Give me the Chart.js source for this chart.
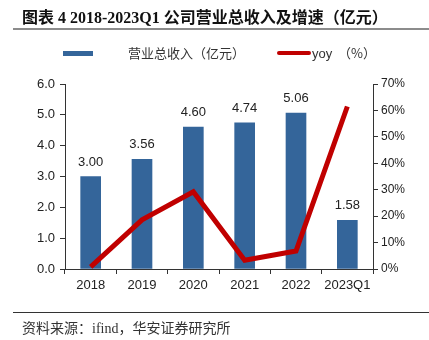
<!DOCTYPE html>
<html>
<head>
<meta charset="utf-8">
<script src="https://cdn.jsdelivr.net/npm/chart.js@4/dist/chart.umd.min.js"></script>
<style>
  body { margin: 0; background: #fff; }
  #wrap { position: relative; width: 429px; height: 340px; overflow: hidden; }
  #title { position: absolute; left: 22px; top: 4px; font: bold 16px "Liberation Serif", "Noto Sans CJK SC", serif; color: #111; white-space: nowrap; }
  #title .cn { font-family: "Noto Sans CJK SC", sans-serif; }
  #line1 { position: absolute; left: 13px; top: 28px; width: 416px; height: 2px; background: #8c8c8c; }
  #line2 { position: absolute; left: 13px; top: 312px; width: 416px; height: 1px; background: #333; }
  #source { position: absolute; left: 22px; top: 317px; font: 14px "Noto Sans CJK SC", sans-serif; color: #333; white-space: nowrap; }
  #source .en { font-family: "Liberation Serif", serif; }
  .leg { position: absolute; font: 13px "Noto Sans CJK SC", sans-serif; color: #333; white-space: nowrap; }
  canvas { position: absolute; left: 0; top: 0; }
</style>
</head>
<body>
<div id="wrap">
  <canvas id="myChart" width="429" height="340"></canvas>
  <div id="title"><span class="cn">图表</span> 4 2018-2023Q1 <span class="cn">公司营业总收入及增速（亿元）</span></div>
  <div id="line1"></div>
  <div class="leg" style="left:63px;top:51px;width:30px;height:5px;background:#34659a;"></div>
  <div class="leg" style="left:128px;top:43px;">营业总收入（亿元）</div>
  <div class="leg" style="left:277px;top:51px;width:34px;height:4px;background:#c00000;border-radius:2px;"></div>
  <div class="leg" style="left:312px;top:43px;"><span style="font-family:'Liberation Sans',sans-serif;">yoy</span>&nbsp;&nbsp;（%）</div>
  <div id="line2"></div>
  <div id="source">资料来源：<span class="en">ifind</span>，华安证券研究所</div>
</div>
<script>
const years = ['2018', '2019', '2020', '2021', '2022', '2023Q1'];
const revenue = [3.00, 3.56, 4.60, 4.74, 5.06, 1.58];
const yoy = [0.8, 18.6, 29.2, 3.3, 6.8, 61.5];
const leftTicks = [0, 1, 2, 3, 4, 5, 6];
const rightTicks = [0, 10, 20, 30, 40, 50, 60, 70];

// value labels above the bars
const barLabels = {
    id: 'barLabels',
    afterDatasetsDraw(chart) {
        const ctx = chart.ctx;
        const meta = chart.getDatasetMeta(1);
        ctx.save();
        ctx.font = '13px "Liberation Sans", sans-serif';
        ctx.fillStyle = '#222';
        ctx.textAlign = 'center';
        ctx.textBaseline = 'bottom';
        meta.data.forEach((bar, i) => {
            ctx.fillText(revenue[i].toFixed(2), bar.x, bar.y - 8);
        });
        ctx.restore();
    }
};

const ctx = document.getElementById('myChart').getContext('2d');
const myChart = new Chart(ctx, {
    data: {
        labels: years,
        datasets: [{
            type: 'line',
            label: 'yoy',
            data: yoy,
            yAxisID: 'y1',
            borderColor: '#c00000',
            borderWidth: 5,
            pointRadius: 0,
            tension: 0,
            order: 0
        }, {
            type: 'bar',
            label: '营业总收入（亿元）',
            data: revenue,
            yAxisID: 'y',
            backgroundColor: '#34659a',
            barThickness: 20,
            order: 1
        }]
    },
    options: {
        responsive: false,
        animation: false,
        layout: { padding: { top: 84, bottom: 41, left: 0, right: 0 } },
        plugins: { legend: { display: false }, tooltip: { enabled: false } },
        scales: {
            x: {
                grid: { drawOnChartArea: false, drawTicks: true, tickLength: 5, color: '#333', offset: true },
                border: { color: '#333', width: 1 },
                ticks: { color: '#222', font: { size: 13, family: 'Liberation Sans' }, padding: 4, maxRotation: 0 },
                afterFit(scale) { scale.height = 30; }
            },
            y: {
                position: 'left',
                min: 0, max: 6,
                afterBuildTicks(scale) { scale.ticks = leftTicks.map(v => ({ value: v })); },
                grid: { drawOnChartArea: false, tickLength: 5, color: '#333' },
                border: { color: '#333', width: 1 },
                ticks: { color: '#222', font: { size: 13, family: 'Liberation Sans' }, padding: 5, callback: v => v.toFixed(1) },
                afterFit(scale) { scale.width = 65; }
            },
            y1: {
                position: 'right',
                min: 0, max: 70,
                afterBuildTicks(scale) { scale.ticks = rightTicks.map(v => ({ value: v })); },
                grid: { drawOnChartArea: false, tickLength: 5, color: '#333' },
                border: { color: '#333', width: 1 },
                ticks: { color: '#222', font: { size: 12, family: 'Liberation Sans' }, padding: 3, callback: v => v + '%' },
                afterFit(scale) { scale.width = 56; }
            }
        }
    },
    plugins: [barLabels]
});
</script>
</body>
</html>
